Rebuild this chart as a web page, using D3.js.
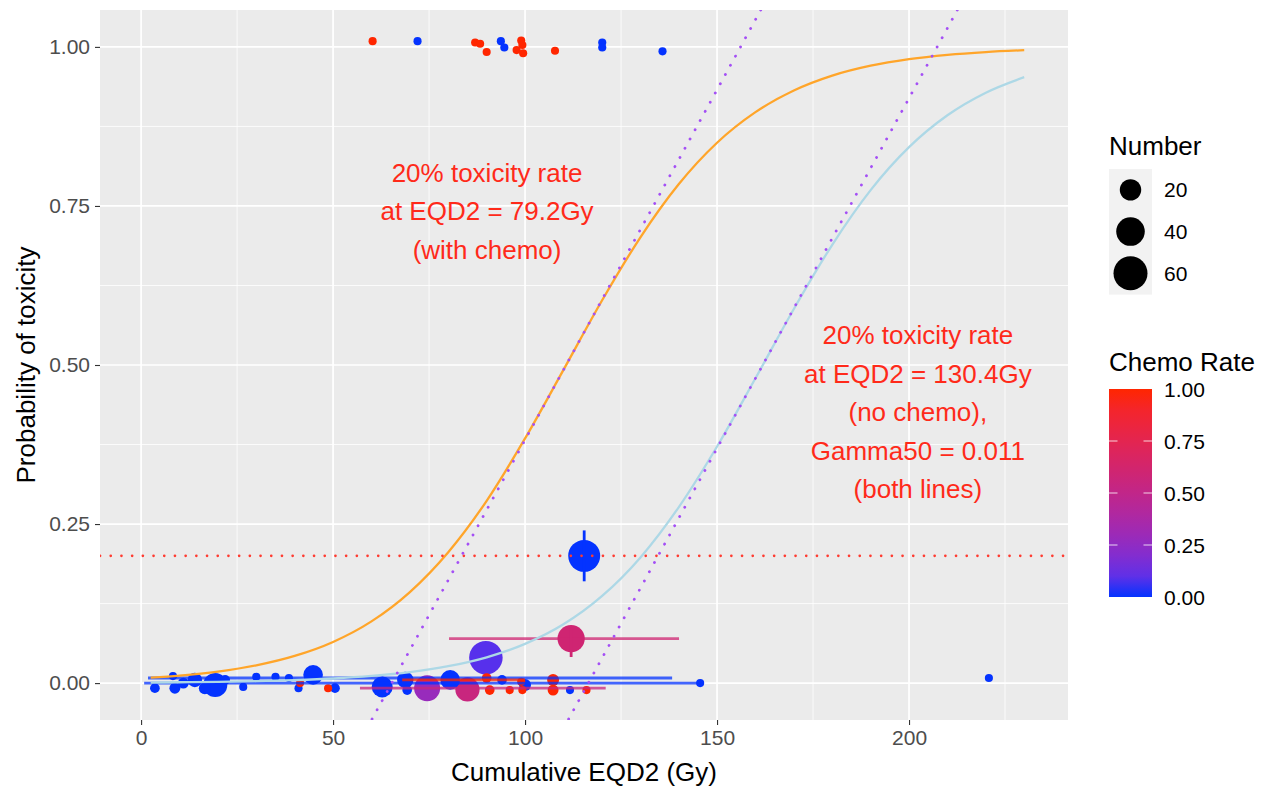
<!DOCTYPE html>
<html>
<head>
<meta charset="utf-8">
<script src="https://cdn.jsdelivr.net/npm/d3@7"></script>
<style>
  body { margin: 0; background: #fff; }
  svg { font-family: "Liberation Sans", Arial, sans-serif; }
  .tick-label { fill: #4d4d4d; font-size: 21px; }
  .axis-title { fill: #000; font-size: 26px; }
  .legend-title { fill: #000; font-size: 26px; }
  .legend-label { fill: #000; font-size: 21px; }
  .note { fill: #ff2a1a; font-size: 26px; text-anchor: middle; }
</style>
</head>
<body>
<svg id="chart" width="1265" height="787"></svg>
<script>
// ---- data ----
// observed points: dose, probability (jittered), patients, chemo rate
const pointDose   = [60.3, 72.0, 87.0, 88.3, 90.0, 93.7, 94.6, 99.0, 99.3, 97.8, 99.5, 107.8, 120.1, 120.1, 135.8,
                     115.4, 112.0, 89.8, 74.5, 85.0, 19.3, 44.8, 62.8, 68.8, 80.5, 14.0,
                     3.6, 8.3, 8.8, 11.0, 16.6, 21.9, 26.6, 30.0, 35.0, 38.5, 41.0, 41.4, 48.7, 50.5, 69.3,
                     90.0, 90.8, 94.0, 96.0, 99.0, 99.3, 100.0, 107.3, 107.3, 111.7, 116.0, 145.6, 220.8];
const pointProb   = [1.009, 1.009, 1.007, 1.005, 0.992, 1.009, 0.999, 1.010, 1.003, 0.995, 0.990, 0.994, 1.007, 0.999, 0.993,
                     0.200, 0.070, 0.040, -0.008, -0.010, -0.003, 0.013, -0.006, 0.005, 0.005, 0.005,
                     -0.008, 0.011, -0.008, 0.000, -0.008, 0.005, -0.006, 0.010, 0.010, 0.008, -0.008, 0.000, -0.008, -0.008, -0.011,
                     0.008, -0.011, 0.005, -0.011, 0.002, -0.011, -0.003, 0.005, -0.011, -0.011, -0.011, 0.000, 0.008];
const pointNumber = [1, 1, 1, 1, 1, 1, 1, 1, 1, 1, 1, 1, 1, 1, 1,
                     52, 36, 58, 32, 27, 27, 16, 19, 10, 16, 7,
                     2, 1, 3, 3, 4, 2, 1, 1, 1, 1, 1, 1, 1, 2, 2,
                     2, 2, 2, 1, 1, 1, 4, 4, 3, 1, 1, 1, 1];
const pointChemo  = [1, 0, 1, 1, 1, 0, 0, 1, 1, 1, 1, 1, 0, 0, 0,
                     0, 0.6, 0.08, 0.28, 0.55, 0, 0, 0, 0, 0, 0,
                     0, 0, 0, 0, 0, 0, 0, 0, 0, 0, 0, 1, 1, 0, 0,
                     1, 1, 0, 1, 1, 1, 0, 1, 1, 0, 1, 0, 0];

// horizontal error bars (dose range)
const hbarDoseMin = [0.8, 1.8, 57.0, 80.2, 68.0];
const hbarDoseMax = [145.6, 138.3, 121.0, 140.1, 100.0];
const hbarProb    = [0.000, 0.008, -0.008, 0.070, 0.005];
const hbarChemo   = [0, 0, 0.55, 0.6, 1];

// vertical error bars (probability range)
const vbarDose    = [115.4, 112.0];
const vbarProbMin = [0.160, 0.041];
const vbarProbMax = [0.240, 0.088];
const vbarChemo   = [0, 0.6];

// fitted curves, read along the dose grid
const curveDose   = [2.5, 10, 20, 30, 40, 50, 60, 70, 80, 90, 100, 110, 120, 130, 140, 150, 160, 170, 180, 190, 200, 210, 220, 230];
const curveChemo  = [0.0085, 0.0118, 0.0181, 0.0279, 0.0427, 0.0647, 0.0970, 0.1431, 0.2058, 0.2865, 0.3846, 0.4923,
                     0.6010, 0.7003, 0.7840, 0.8493, 0.8974, 0.9314, 0.9548, 0.9704, 0.9807, 0.9875, 0.9919, 0.9948];
const curveNoChemo = [0.0009, 0.0013, 0.0019, 0.0030, 0.0047, 0.0072, 0.0112, 0.0172, 0.0265, 0.0405, 0.0616, 0.0924,
                      0.1366, 0.1972, 0.2763, 0.3719, 0.4791, 0.5881, 0.6890, 0.7749, 0.8424, 0.8925, 0.9280, 0.9524];

// dotted slope lines through the 50% points: [dose start, dose end], [prob start, prob end]
const slopeDose = [[56.2, 165.2], [107.4, 216.4]];
const slopeProb = [[-0.1, 1.1], [-0.1, 1.1]];
const refProb = 0.2;

const xTicks = [0, 50, 100, 150, 200];
const yTicks = [0, 0.25, 0.5, 0.75, 1];
const xMinor = [25, 75, 125, 175, 225];
const yMinor = [0.125, 0.375, 0.625, 0.875];

const noteChemo   = ["20% toxicity rate", "at EQD2 = 79.2Gy", "(with chemo)"];
const noteNoChemo = ["20% toxicity rate", "at EQD2 = 130.4Gy", "(no chemo),", "Gamma50 = 0.011", "(both lines)"];
const noteDose = [90.1, 202.3];
const noteProb = [0.742, 0.426];

const sizeBreaks = [20, 40, 60];
const chemoBreaks = [0, 0.25, 0.5, 0.75, 1];

class DosePlot {
  constructor(_config) {
    this.config = {
      parentElement: _config.parentElement,
      margin: { top: 10, right: 197, bottom: 67, left: 100 },
      containerWidth: 1265,
      containerHeight: 787
    };
    this.initVis();
  }

  initVis() {
    let vis = this;
    const m = vis.config.margin;
    vis.width = vis.config.containerWidth - m.left - m.right;
    vis.height = vis.config.containerHeight - m.top - m.bottom;

    vis.xScale = d3.scaleLinear().domain([-10.7, 241.4]).range([0, vis.width]);
    vis.yScale = d3.scaleLinear().domain([-0.058, 1.058]).range([vis.height, 0]);
    vis.rScale = d3.scaleSqrt().domain([1, 60]).range([4.06, 17.0]);
    vis.colour = d3.scaleLinear().domain([0, 1]).range(["#0433ff", "#ff2600"]).interpolate(d3.interpolateLab);

    vis.svg = d3.select(vis.config.parentElement);
    vis.chart = vis.svg.append("g").attr("transform", `translate(${m.left},${m.top})`);

    vis.svg.append("defs").append("clipPath").attr("id", "panel-clip")
      .append("rect").attr("width", vis.width).attr("height", vis.height);

    vis.chart.append("rect").attr("width", vis.width).attr("height", vis.height).attr("fill", "#ebebeb");

    // grid
    const grid = vis.chart.append("g");
    grid.selectAll(".xminor").data(xMinor).join("line")
      .attr("x1", d => vis.xScale(d)).attr("x2", d => vis.xScale(d))
      .attr("y1", 0).attr("y2", vis.height).attr("stroke", "#fff").attr("stroke-width", 0.8);
    grid.selectAll(".yminor").data(yMinor).join("line")
      .attr("y1", d => vis.yScale(d)).attr("y2", d => vis.yScale(d))
      .attr("x1", 0).attr("x2", vis.width).attr("stroke", "#fff").attr("stroke-width", 0.8);
    grid.selectAll(".xmajor").data(xTicks).join("line")
      .attr("x1", d => vis.xScale(d)).attr("x2", d => vis.xScale(d))
      .attr("y1", 0).attr("y2", vis.height).attr("stroke", "#fff").attr("stroke-width", 1.7);
    grid.selectAll(".ymajor").data(yTicks).join("line")
      .attr("y1", d => vis.yScale(d)).attr("y2", d => vis.yScale(d))
      .attr("x1", 0).attr("x2", vis.width).attr("stroke", "#fff").attr("stroke-width", 1.7);

    // axes
    vis.xAxis = d3.axisBottom(vis.xScale).tickValues(xTicks).tickSize(5).tickPadding(5).tickSizeOuter(0);
    vis.yAxis = d3.axisLeft(vis.yScale).tickValues(yTicks).tickSize(5).tickPadding(5).tickSizeOuter(0)
      .tickFormat(d3.format(".2f"));
    vis.xAxisG = vis.chart.append("g").attr("transform", `translate(0,${vis.height})`).call(vis.xAxis);
    vis.yAxisG = vis.chart.append("g").call(vis.yAxis);
    [vis.xAxisG, vis.yAxisG].forEach(g => {
      g.select(".domain").remove();
      g.selectAll(".tick line").attr("stroke", "#333").attr("stroke-width", 1.1);
      g.selectAll(".tick text").attr("class", "tick-label").attr("fill", null).style("font-size", null);
      g.attr("font-family", null).attr("font-size", null);
    });

    vis.chart.append("text").attr("class", "axis-title")
      .attr("x", vis.width / 2).attr("y", vis.height + 61)
      .attr("text-anchor", "middle").text("Cumulative EQD2 (Gy)");
    vis.svg.append("text").attr("class", "axis-title")
      .attr("transform", `translate(35,${m.top + vis.height / 2}) rotate(-90)`)
      .attr("text-anchor", "middle").text("Probability of toxicity");

    vis.plot = vis.chart.append("g").attr("clip-path", "url(#panel-clip)");

    vis.updateVis();
  }

  updateVis() {
    let vis = this;
    vis.points = pointDose.map((d, i) => ({
      dose: d, prob: pointProb[i], n: pointNumber[i], chemo: pointChemo[i]
    })).sort((a, b) => b.n - a.n);
    vis.hbars = hbarDoseMin.map((d, i) => ({ x0: d, x1: hbarDoseMax[i], y: hbarProb[i], chemo: hbarChemo[i] }));
    vis.vbars = vbarDose.map((d, i) => ({ x: d, y0: vbarProbMin[i], y1: vbarProbMax[i], chemo: vbarChemo[i] }));
    vis.curves = [
      { colour: "#ffa52a", values: curveDose.map((d, i) => [d, curveChemo[i]]) },
      { colour: "#add8e6", values: curveDose.map((d, i) => [d, curveNoChemo[i]]) }
    ];
    vis.renderVis();
  }

  renderVis() {
    let vis = this;
    const x = vis.xScale, y = vis.yScale;

    vis.plot.selectAll(".pt").data(vis.points).join("circle")
      .attr("class", "pt")
      .attr("cx", d => x(d.dose)).attr("cy", d => y(d.prob))
      .attr("r", d => vis.rScale(d.n))
      .attr("fill", d => vis.colour(d.chemo));

    vis.plot.selectAll(".hbar").data(vis.hbars).join("line")
      .attr("class", "hbar")
      .attr("x1", d => x(d.x0)).attr("x2", d => x(d.x1))
      .attr("y1", d => y(d.y)).attr("y2", d => y(d.y))
      .attr("stroke", d => vis.colour(d.chemo)).attr("stroke-width", 2.8).attr("opacity", 0.75);

    vis.plot.selectAll(".vbar").data(vis.vbars).join("line")
      .attr("class", "vbar")
      .attr("x1", d => x(d.x)).attr("x2", d => x(d.x))
      .attr("y1", d => y(d.y0)).attr("y2", d => y(d.y1))
      .attr("stroke", d => vis.colour(d.chemo)).attr("stroke-width", 2.8);

    const line = d3.line().x(d => x(d[0])).y(d => y(d[1])).curve(d3.curveMonotoneX);
    vis.plot.selectAll(".curve").data(vis.curves).join("path")
      .attr("class", "curve")
      .attr("d", d => line(d.values))
      .attr("fill", "none").attr("stroke", d => d.colour).attr("stroke-width", 2.3);

    vis.plot.append("line")
      .attr("x1", 0).attr("x2", vis.width).attr("y1", y(refProb)).attr("y2", y(refProb))
      .attr("stroke", "#ff3b30").attr("stroke-width", 2.6)
      .attr("stroke-dasharray", "0.1 10.6").attr("stroke-linecap", "round");

    vis.plot.selectAll(".slope").data(slopeDose).join("line")
      .attr("class", "slope")
      .attr("x1", d => x(d[0])).attr("x2", d => x(d[1]))
      .attr("y1", (d, i) => y(slopeProb[i][0])).attr("y2", (d, i) => y(slopeProb[i][1]))
      .attr("stroke", "#a44ff5").attr("stroke-width", 2.8)
      .attr("stroke-dasharray", "0.1 10.4").attr("stroke-linecap", "round");

    const notes = [noteChemo, noteNoChemo];
    notes.forEach((lines, k) => {
      const lh = 38.5;
      const cy = y(noteProb[k]);
      const t = vis.chart.append("text").attr("class", "note");
      lines.forEach((s, i) => {
        t.append("tspan").attr("x", x(noteDose[k]))
          .attr("y", cy + (i - (lines.length - 1) / 2) * lh + 9).text(s);
      });
    });

    vis.renderLegends();
  }

  renderLegends() {
    let vis = this;
    const lx = 1109;

    // size legend
    const sizeG = vis.svg.append("g");
    sizeG.append("text").attr("class", "legend-title").attr("x", lx).attr("y", 155).text("Number");
    const cell = 41.7;
    sizeBreaks.forEach((b, i) => {
      const top = 169 + i * cell;
      sizeG.append("rect").attr("x", lx).attr("y", top).attr("width", 43).attr("height", cell + 0.5).attr("fill", "#f2f2f2");
      sizeG.append("circle").attr("cx", lx + 21.5).attr("cy", top + cell / 2).attr("r", vis.rScale(b)).attr("fill", "#000");
      sizeG.append("text").attr("class", "legend-label").attr("x", lx + 55).attr("y", top + cell / 2 + 7.5).text(b);
    });

    // colour bar
    const barTop = 389, barH = 208, barW = 43;
    const grad = vis.svg.select("defs").append("linearGradient").attr("id", "chemo-grad")
      .attr("x1", 0).attr("x2", 0).attr("y1", 1).attr("y2", 0);
    d3.range(0, 1.0001, 0.1).forEach(t => {
      grad.append("stop").attr("offset", t).attr("stop-color", vis.colour(t));
    });
    const barScale = d3.scaleLinear().domain([0, 1]).range([barTop + barH, barTop]);
    const colG = vis.svg.append("g");
    colG.append("text").attr("class", "legend-title").attr("x", lx).attr("y", 371).text("Chemo Rate");
    colG.append("rect").attr("x", lx).attr("y", barTop).attr("width", barW).attr("height", barH).attr("fill", "url(#chemo-grad)");
    chemoBreaks.forEach(b => {
      const yy = barScale(b);
      if (b > 0 && b < 1) {
        colG.append("line").attr("x1", lx).attr("x2", lx + 8.5).attr("y1", yy).attr("y2", yy)
          .attr("stroke", "#fff").attr("stroke-opacity", 0.8).attr("stroke-width", 1);
        colG.append("line").attr("x1", lx + barW - 8.5).attr("x2", lx + barW).attr("y1", yy).attr("y2", yy)
          .attr("stroke", "#fff").attr("stroke-opacity", 0.8).attr("stroke-width", 1);
      }
      colG.append("text").attr("class", "legend-label").attr("x", lx + 55).attr("y", yy + 7.5)
        .text(d3.format(".2f")(b));
    });
  }
}

new DosePlot({ parentElement: "#chart" });
</script>
</body>
</html>
